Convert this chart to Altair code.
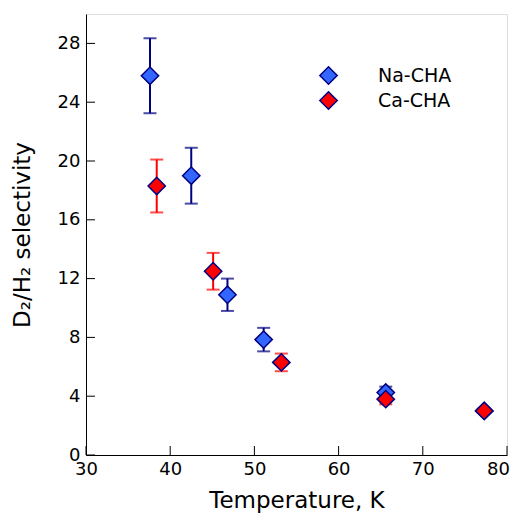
import altair as alt
import pandas as pd

na_T = [37.6, 42.5, 46.8, 51.1, 65.6, 77.3]
na_S = [25.8, 19.0, 10.9, 7.85, 4.25, 3.0]
na_err = [2.55, 1.9, 1.1, 0.8, 0.4, 0.15]

ca_T = [38.4, 45.1, 53.2, 65.6, 77.3]
ca_S = [18.3, 12.5, 6.3, 3.8, 3.0]
ca_err = [1.8, 1.25, 0.6, 0.35, 0.15]

series = ["Na-CHA", "Ca-CHA"]
fills = ["#3366ff", "#ff0000"]
bar_colors = {"Na-CHA": "#000080", "Ca-CHA": "#ff0000"}

x_ticks = [30, 40, 50, 60, 70, 80]
y_ticks = [0, 4, 8, 12, 16, 20, 24, 28]

W, H = 421, 441

rows = []
for t, s, e in zip(na_T, na_S, na_err):
    rows.append({"T": t, "S": s, "lo": s - e, "hi": s + e, "series": "Na-CHA", "ord": 0})
for t, s, e in zip(ca_T, ca_S, ca_err):
    rows.append({"T": t, "S": s, "lo": s - e, "hi": s + e, "series": "Ca-CHA", "ord": 1})
df = pd.DataFrame(rows)

xscale = alt.Scale(domain=[30, 80], nice=False, zero=False, padding=0)
yscale = alt.Scale(domain=[0, 30], nice=False, zero=False, padding=0)

xaxis = alt.Axis(values=x_ticks, ticks=False, grid=False, labelFontSize=18, labelPadding=5,
                 labelFlush=False, labelOverlap=False,
                 labelOffset={"condition": {"test": "datum.value == 80", "value": -9}, "value": 0},
                 titleFontSize=23, titlePadding=11, titleFontWeight="normal",
                 domainColor="black", labelColor="black", titleColor="black")
yaxis = alt.Axis(values=y_ticks, ticks=False, grid=False, labelFontSize=18, labelPadding=6,
                 labelFlush=False, labelOverlap=False,
                 titleFontSize=23, titlePadding=23, titleFontWeight="normal",
                 domainColor="black", labelColor="black", titleColor="black")

x = alt.X("T:Q", scale=xscale, axis=xaxis, title="Temperature, K")
y = alt.Y("S:Q", scale=yscale, axis=yaxis, title="D₂/H₂ selectivity")

layers = []

ytick_df = pd.DataFrame({"v": y_ticks})
xtick_df = pd.DataFrame({"v": x_ticks})
layers.append(alt.Chart(ytick_df).mark_rule(color="black", strokeWidth=1).encode(
    y=alt.Y("v:Q", scale=yscale), x=alt.value(0), x2=alt.value(9)
))
layers.append(alt.Chart(xtick_df).mark_rule(color="black", strokeWidth=1).encode(
    x=alt.X("v:Q", scale=xscale), y=alt.value(H), y2=alt.value(H - 9)
))

for name in series:
    c = bar_colors[name]
    b = alt.Chart(df).transform_filter(alt.datum.series == name)
    layers.append(b.mark_rule(strokeWidth=2, color=c).encode(
        x=x, y=alt.Y("lo:Q", scale=yscale), y2="hi:Q"))
    layers.append(b.mark_tick(orient="horizontal", size=13, thickness=2, color=c).encode(
        x=x, y=alt.Y("lo:Q", scale=yscale)))
    layers.append(b.mark_tick(orient="horizontal", size=13, thickness=2, color=c).encode(
        x=x, y=alt.Y("hi:Q", scale=yscale)))

points = alt.Chart(df).mark_point(shape="diamond", filled=True, size=300, stroke="#000080",
                                  strokeWidth=1.5, opacity=1).encode(
    x=x, y=y,
    fill=alt.Fill("series:N", scale=alt.Scale(domain=series, range=fills),
                  legend=alt.Legend(title=None, orient="none", legendX=233, legendY=52,
                                    symbolType="diamond", symbolSize=300,
                                    symbolStrokeColor="#000080", symbolStrokeWidth=1.5,
                                    symbolOpacity=1, symbolFillColor="#3366ff",
                                    labelFontSize=19, labelOffset=40, rowPadding=0,
                                    labelColor="black")),
    order=alt.Order("ord:Q"),
)
layers.append(points)

chart = alt.layer(*layers).properties(
    width=W, height=H,
    autosize=alt.AutoSizeParams(type="none"),
    padding={"left": 78, "top": 6, "right": 4, "bottom": 60},
).configure_view(stroke="black", strokeWidth=1).configure(font="DejaVu Sans")

chart.save("out.html", embed_options={"renderer": "svg", "actions": False})
